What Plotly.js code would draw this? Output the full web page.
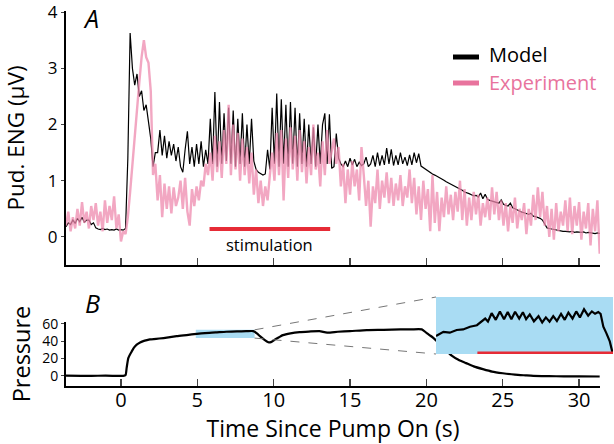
<!DOCTYPE html>
<html><head><meta charset="utf-8">
<script src="https://cdn.plot.ly/plotly-3.0.1.min.js"></script>
<style>html,body{margin:0;padding:0;background:#fff}#chart{width:614px;height:444px}</style>
</head><body><div id="chart"></div>
<script>
// ENG sample grid (s)
const engStart = -3.6, engStep = 0.15;
// Model ENG (µV)
const modelENG = [
0.18,0.25,0.22,0.30,0.24,0.33,0.27,0.35,0.26,0.30,
0.30,0.22,0.25,0.16,0.14,0.13,0.15,0.13,0.14,0.12,
0.13,0.12,0.14,0.12,0.13,0.12,0.15,1.40,3.63,3.00,
2.70,2.90,2.50,2.60,2.25,2.35,2.05,1.75,1.25,1.50,
1.50,1.90,1.45,1.80,1.40,1.70,1.45,1.65,1.35,1.60,
1.25,1.15,1.55,1.88,1.30,1.60,1.25,1.65,1.30,1.70,
1.25,1.55,1.30,2.10,1.30,2.58,1.25,2.40,1.30,2.20,
1.35,2.30,1.30,2.25,1.25,2.10,1.30,2.20,1.25,2.00,
1.30,2.10,1.35,1.20,1.15,1.12,1.10,1.12,1.55,1.20,
2.30,1.30,2.55,1.25,2.45,1.30,2.35,1.25,2.40,1.30,
2.30,1.25,2.20,1.30,2.10,1.25,2.00,1.30,1.95,1.25,
2.00,1.30,2.00,2.20,1.30,2.18,1.22,1.25,1.84,1.40,
1.30,1.25,1.35,1.25,1.40,1.28,1.38,1.25,1.33,1.27,
1.30,1.42,1.25,1.30,1.45,1.25,1.50,1.27,1.45,1.28,
1.58,1.30,1.56,1.27,1.45,1.28,1.50,1.30,1.42,1.27,
1.46,1.28,1.50,1.32,1.48,1.26,1.23,1.20,1.17,1.14,
1.12,1.10,1.08,1.05,1.03,1.01,0.98,0.96,0.94,0.91,
0.89,0.87,0.85,0.83,0.80,0.79,0.77,0.75,0.73,0.74,
0.71,0.78,0.68,0.76,0.67,0.65,0.64,0.63,0.61,0.60,
0.66,0.58,0.56,0.55,0.60,0.52,0.50,0.48,0.45,0.44,
0.43,0.41,0.40,0.42,0.37,0.36,0.35,0.33,0.30,0.22,
0.16,0.15,0.14,0.13,0.12,0.12,0.11,0.10,0.10,0.09,
0.09,0.10,0.08,0.09,0.08,0.08,0.09,0.07,0.08,0.07,
0.07,0.06,0.07,0.06];
// Experiment ENG (µV)
const experimentENG = [
0.20,0.45,0.10,0.35,0.15,0.50,0.20,0.62,0.25,0.45,
0.15,0.55,0.30,0.60,0.20,0.45,0.10,0.65,0.25,0.55,
0.30,0.72,0.15,0.40,-0.08,0.10,0.05,0.35,0.80,1.30,
1.90,2.30,2.75,3.20,3.50,3.20,3.10,2.60,1.10,1.30,
0.65,1.10,0.35,0.95,0.50,0.90,0.42,0.88,0.55,0.70,
1.00,0.50,1.05,0.45,0.20,0.85,0.55,0.90,0.65,1.00,
0.90,1.30,1.10,1.50,1.00,1.80,1.15,1.70,1.05,1.90,
1.30,2.35,1.10,2.00,1.20,1.85,1.00,1.75,1.10,1.60,
0.95,1.50,0.75,1.20,0.60,1.00,0.55,0.90,0.65,1.10,
1.50,1.00,1.85,1.10,1.90,0.65,1.75,1.05,1.95,1.20,
1.80,1.00,1.90,1.15,1.70,0.95,1.60,1.10,2.00,1.20,
1.50,0.90,1.70,1.10,1.90,1.30,1.55,1.75,1.30,1.60,
0.90,1.30,0.60,1.20,0.75,1.35,0.90,1.20,0.65,1.60,
1.10,0.55,1.00,0.18,0.90,0.60,1.20,0.50,1.00,0.70,
1.15,0.60,1.05,0.55,0.95,0.65,1.10,0.55,0.90,0.70,
1.20,0.60,1.05,0.40,0.90,0.30,1.00,0.50,0.85,0.10,
1.10,0.25,0.80,0.10,0.70,0.35,0.90,0.40,0.75,0.30,
0.80,0.45,1.00,0.30,0.85,0.20,0.70,0.30,0.80,0.40,
0.75,0.20,0.60,0.35,0.70,0.30,0.88,0.40,0.80,0.30,
0.65,0.20,0.60,0.10,0.55,0.25,0.70,0.15,0.50,0.30,
0.60,0.05,0.50,0.20,0.75,0.30,0.88,0.35,0.80,0.20,
0.55,0.00,0.50,-0.05,0.60,0.10,0.45,0.20,0.65,0.10,
0.70,0.05,0.55,0.20,0.62,-0.05,0.45,0.15,0.60,-0.15,
0.50,0.10,0.65,-0.30];
// Bladder pressure
const pressTime = [-3.6,-2,-1,0,0.15,0.3,0.37,0.48,0.6,0.7,0.85,1.03,1.25,1.46,1.7,1.9,2.5,3.0,3.65,4.3,4.96,5.5,6.2,6.9,7.6,8.2,8.66,8.9,9.1,9.4,9.65,9.76,9.9,10.1,10.35,10.6,11.1,11.7,12.3,13.0,13.5,14.2,15.0,16.1,17.2,18.3,19.0,19.7,20.0,20.2,20.45,20.8,21.2,21.66,22.1,22.6,23.1,23.7,24.3,25.0,25.8,26.5,27.0,28.0,29.0,30.0,31.35];
const pressValue = [0.3,0,0.4,0,0,1,9,20.5,25,28,32.5,36,38.5,40,41.2,42,43,44,45.7,47,48.4,49.3,50,50.8,51.2,51.4,51.5,49,45.7,41.5,38.8,38.5,39.5,42,44.5,46.9,49,50.4,51,51.5,49.8,50.8,51.5,52.7,53,53.5,53.5,53.5,49.6,47,43.8,38,31,23.3,18.5,14.7,11,7.8,5,3.1,1.5,0.6,0,-0.3,-0.5,-0.6,-0.7];
// Zoomed pressure (inset)
const insetTime = [4.9,5.06,5.2,5.35,5.49,5.64,5.79,5.89,5.97,6.03,6.11,6.20,6.29,6.38,6.46,6.54,6.62,6.71,6.79,6.86,6.94,7.03,7.13,7.21,7.29,7.37,7.45,7.53,7.62,7.70,7.78,7.87,7.95,8.03,8.12,8.21,8.29,8.36,8.43,8.48,8.54,8.61,8.68,8.74];
const insetValue = [46.5,47.2,47.05,47.5,47.6,48.05,48.3,48.9,49.4,48.9,50.3,49.2,50.6,49.3,50.5,49.3,50.55,49.4,50.45,49.3,50.1,48.95,49.8,48.75,49.6,48.9,49.8,49.0,50.2,49.2,50.4,49.4,50.6,49.6,50.95,49.9,50.6,50.2,50.5,50.2,48.05,46.9,45.6,43.7];
const zoomTime = [4.9, 8.75];
const zoomPress = [43.5, 53];
const stimulation = [5.8, 13.7];
const xTicks = [0,5,10,15,20,25,30];
const engTicks = [0,1,2,3,4];
const pressTicks = [0,20,40,60];

const engTime = modelENG.map((_, i) => +(engStart + i*engStep).toFixed(2));

const FONT = 'Open Sans, sans-serif';
const BLUE = '#a9dcf3', RED = '#e62b36', PINK = '#ee8aad', PINKTXT = '#e8739d';

const traces = [
  {x: engTime, y: modelENG, type:'scatter', mode:'lines', line:{color:'#000', width:1.2}, xaxis:'x', yaxis:'y', name:'Model', hoverinfo:'skip'},
  {x: engTime, y: experimentENG, type:'scatter', mode:'lines', line:{color:PINK, width:2.4}, opacity:0.75, xaxis:'x', yaxis:'y', name:'Experiment', hoverinfo:'skip'},
  {x: pressTime, y: pressValue, type:'scatter', mode:'lines', line:{color:'#000', width:2.2, shape:'spline', smoothing:0.6}, xaxis:'x2', yaxis:'y2', hoverinfo:'skip'},
  {x: [zoomTime[0], zoomTime[1], zoomTime[1], zoomTime[0], zoomTime[0]], y: [zoomPress[0], zoomPress[0], zoomPress[1], zoomPress[1], zoomPress[0]],
   type:'scatter', mode:'lines', fill:'toself', fillcolor:BLUE, line:{width:0, color:BLUE}, xaxis:'x3', yaxis:'y3', hoverinfo:'skip'},
  {x: insetTime, y: insetValue, type:'scatter', mode:'lines', line:{color:'#000', width:2.2}, xaxis:'x3', yaxis:'y3', hoverinfo:'skip'}
];

const axLine = {showline:true, linecolor:'#000', linewidth:2, showgrid:false, zeroline:false, mirror:false, ticklabeloverflow:'allow'};
const TOP = 11;
const W = 548, H = 444 - TOP - 58; // plot-area paper size in px
const px = v => (v - 66) / W;          // page x -> paper
const py = v => (386 - v) / H;         // page y -> paper
const insetX = [px(436), px(613)], insetY = [py(354), py(297)];
const x2px = t => 66 + (t + 3.6) / (31.37 + 3.6) * 534;
const y2px = p => 386 - (p + 11.6) / (62 + 11.6) * 64;

const layout = {
  width:614, height:444, margin:{l:66, r:0, t:TOP, b:58},
  paper_bgcolor:'#fff', plot_bgcolor:'rgba(0,0,0,0)', showlegend:false,
  font:{family:FONT, color:'#000'},
  xaxis: Object.assign({}, axLine, {domain:[0, 534/W], range:[-3.6, 31.37], anchor:'y', tickvals:xTicks, ticks:'inside', ticklen:7, tickwidth:1.5, showticklabels:false}),
  yaxis: Object.assign({}, axLine, {domain:[py(265), 1], range:[-0.5, 4.02], anchor:'x', tickvals:engTicks, ticks:'outside', ticklen:3, tickwidth:1, tickfont:{size:17},
    title:{text:'Pud. ENG (µV)', font:{size:22.5}, standoff:18}}),
  xaxis2: Object.assign({}, axLine, {domain:[0, 534/W], range:[-3.6, 31.37], anchor:'y2', tickvals:xTicks, ticks:'inside', ticklen:7, tickwidth:1.5, tickfont:{size:20}, ticklabelstandoff:-5,
    title:{text:'Time Since Pump On (s)', font:{size:23}, standoff:6}}),
  yaxis2: Object.assign({}, axLine, {domain:[0, py(322)], range:[-11.6, 62], anchor:'x2', tickvals:pressTicks, ticks:'outside', ticklen:3, tickwidth:1, tickfont:{size:14},
    title:{text:'Pressure', font:{size:23.5}, standoff:5}}),
  xaxis3: {domain:insetX, range:zoomTime, anchor:'y3', visible:false},
  yaxis3: {domain:insetY, range:zoomPress, anchor:'x3', visible:false},
  shapes: [
    {type:'rect', xref:'x2', yref:'y2', x0:zoomTime[0], x1:zoomTime[1], y0:zoomPress[0], y1:zoomPress[1], fillcolor:BLUE, line:{width:0}, layer:'below'},
    {type:'line', xref:'paper', yref:'paper', x0:px(x2px(zoomTime[1])), y0:py(y2px(zoomPress[1])), x1:insetX[0], y1:insetY[1], line:{color:'#777', width:1, dash:'dash'}},
    {type:'line', xref:'paper', yref:'paper', x0:px(x2px(zoomTime[1])), y0:py(y2px(zoomPress[0])), x1:insetX[0], y1:insetY[0], line:{color:'#777', width:1, dash:'dash'}},
    {type:'line', xref:'x', yref:'y', x0:stimulation[0], x1:stimulation[1], y0:0.14, y1:0.14, line:{color:RED, width:4}},
    {type:'line', xref:'x3', yref:'y3', x0:stimulation[0], x1:zoomTime[1], y0:zoomPress[0], y1:zoomPress[0], line:{color:RED, width:5}},
    {type:'line', xref:'paper', yref:'paper', x0:px(453), x1:px(479), y0:py(57), y1:py(57), line:{color:'#000', width:5}},
    {type:'line', xref:'paper', yref:'paper', x0:px(453), x1:px(479), y0:py(83), y1:py(83), line:{color:PINKTXT, width:5}}
  ],
  annotations: [
    {text:'<i>A</i>', xref:'paper', yref:'paper', x:px(91), y:py(18), showarrow:false, font:{size:25}, xanchor:'center', yanchor:'middle'},
    {text:'<i>B</i>', xref:'paper', yref:'paper', x:px(92), y:py(303), showarrow:false, font:{size:25}, xanchor:'center', yanchor:'middle'},
    {text:'stimulation', xref:'x', yref:'y', x:(stimulation[0]+stimulation[1])/2, y:-0.14, showarrow:false, font:{size:16.5}, xanchor:'center', yanchor:'middle'},
    {text:'Model', xref:'paper', yref:'paper', x:px(487), y:py(55), showarrow:false, font:{size:20}, xanchor:'left', yanchor:'middle'},
    {text:'Experiment', xref:'paper', yref:'paper', x:px(487), y:py(82), showarrow:false, font:{size:20, color:PINKTXT}, xanchor:'left', yanchor:'middle'}
  ]
};

Plotly.newPlot('chart', traces, layout, {displayModeBar:false, staticPlot:true});
</script>
</body></html>
